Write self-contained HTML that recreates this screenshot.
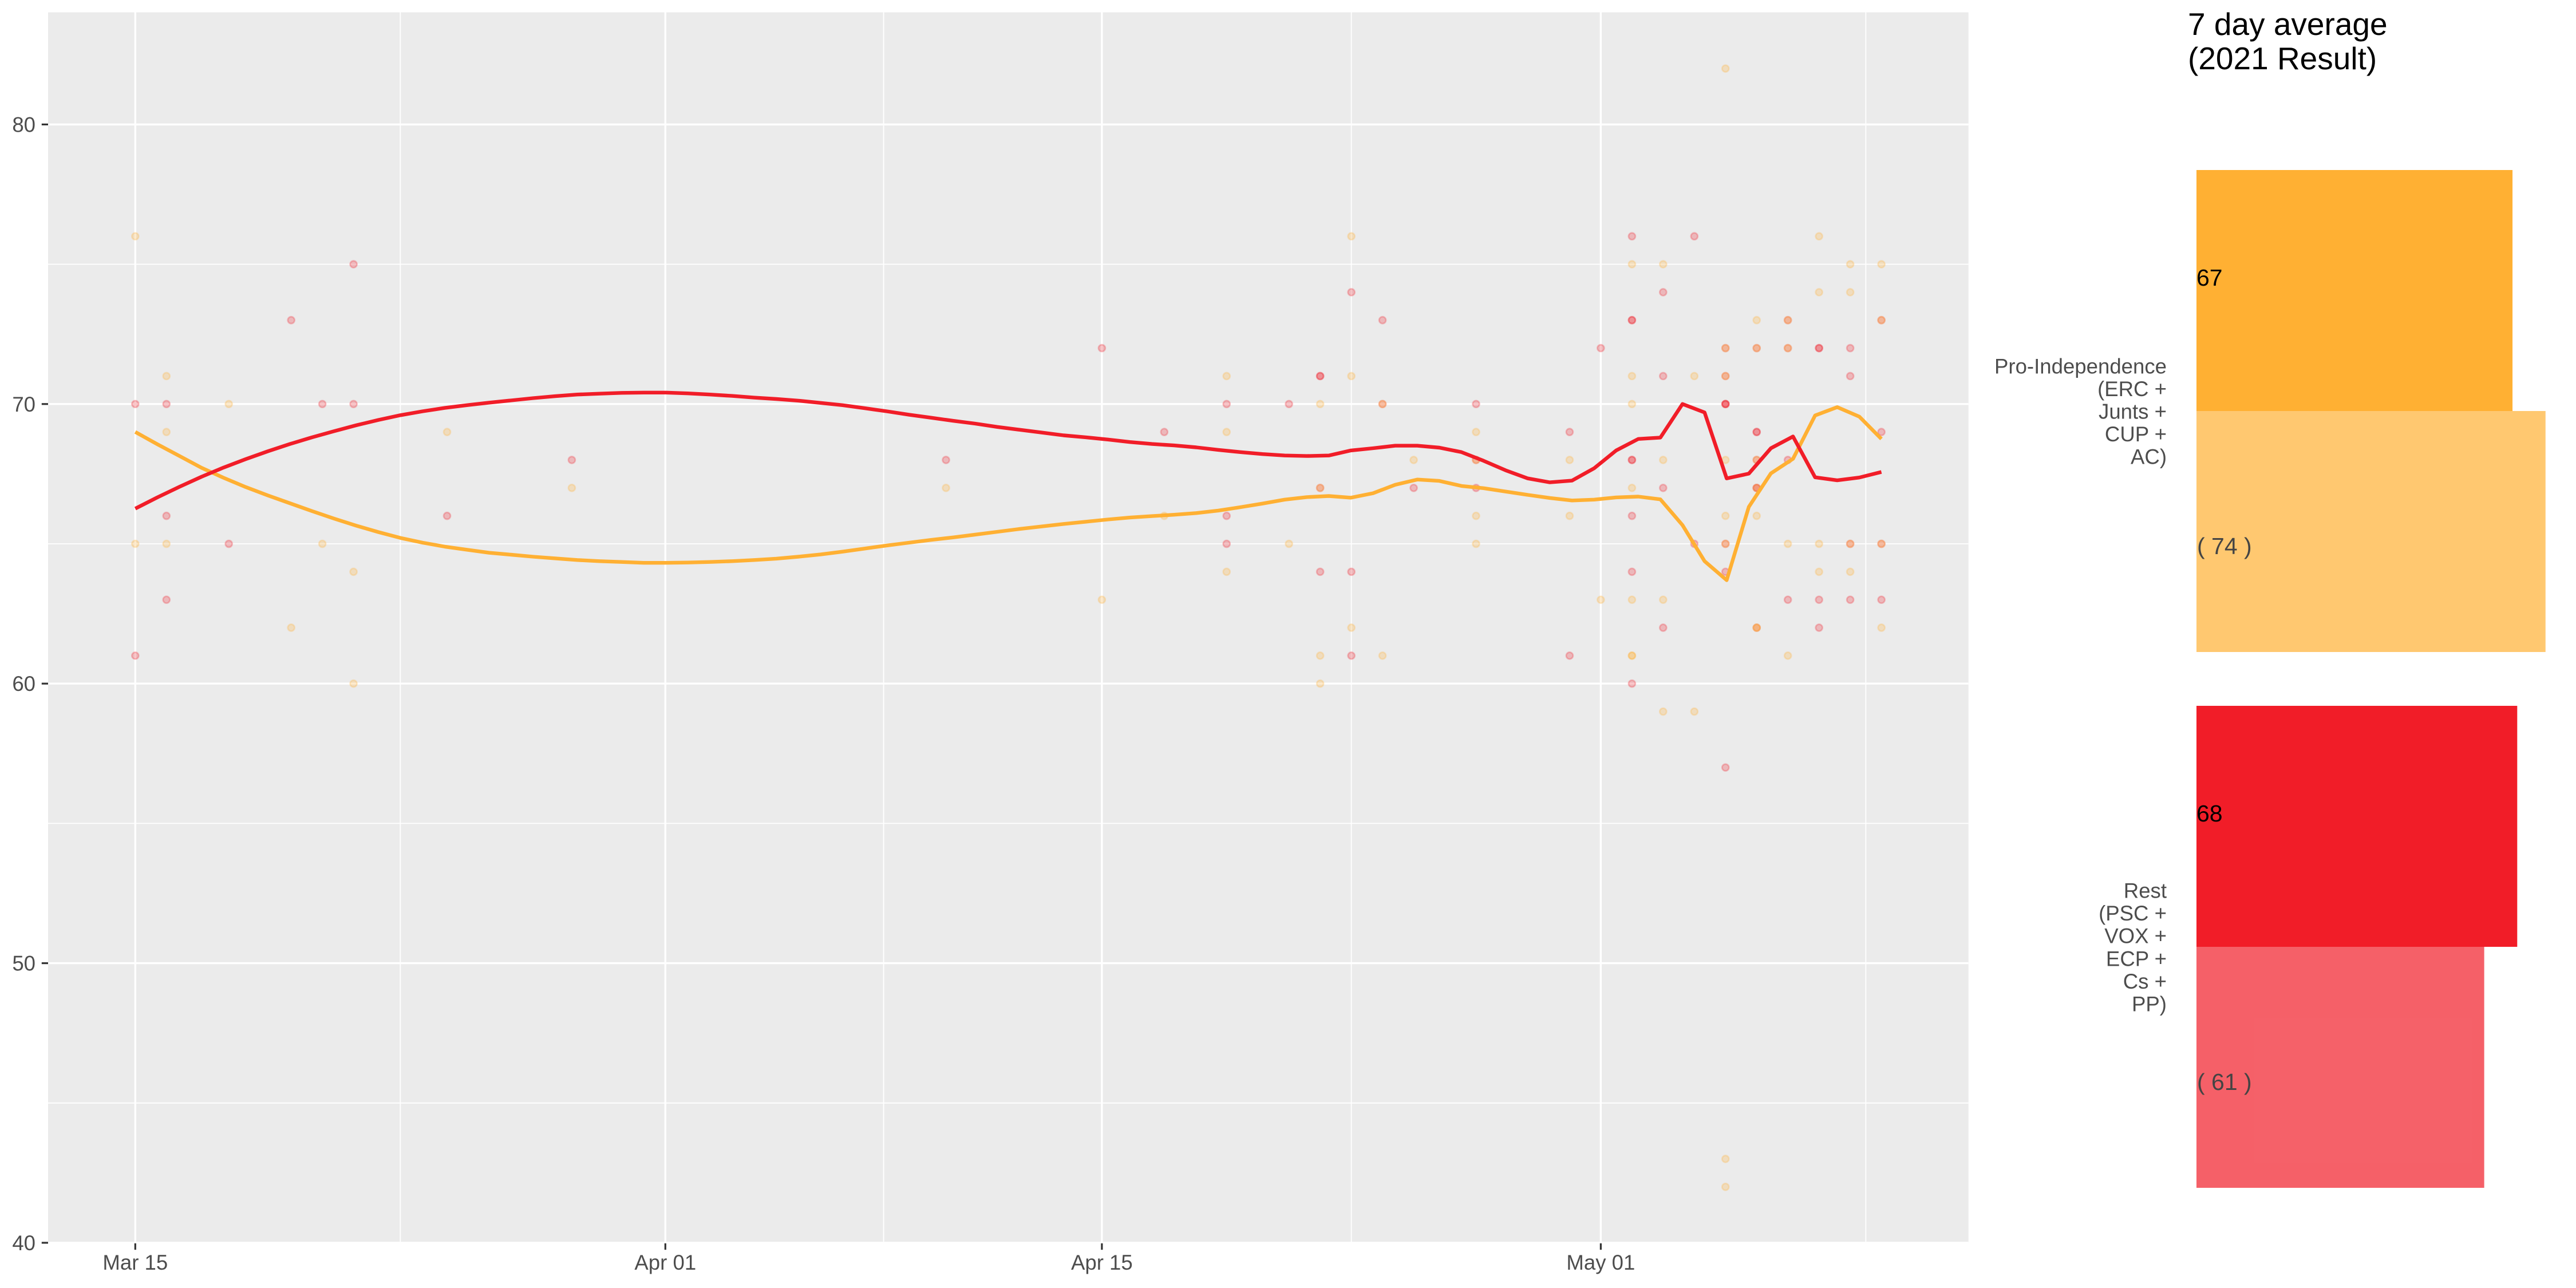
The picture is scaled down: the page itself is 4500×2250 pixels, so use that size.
<!DOCTYPE html>
<html lang="en">
<head>
<meta charset="utf-8">
<title>7 day average polling chart</title>
<style>
html,body{margin:0;padding:0;background:#fff;}
svg{display:block;font-family:"Liberation Sans",Arial,sans-serif;}
</style>
</head>
<body>
<svg id="chart" xmlns="http://www.w3.org/2000/svg" width="4500" height="2250" viewBox="0 0 4500 2250">
  <rect x="0" y="0" width="4500" height="2250" fill="#ffffff"/>
  <defs><clipPath id="panel-clip"><rect x="84" y="21.5" width="3354.7" height="2148.5"/></clipPath></defs>
  <rect x="84" y="21.5" width="3354.7" height="2148.5" fill="#ebebeb"/>
  <g id="grid" clip-path="url(#panel-clip)"></g>
  <g id="axes"></g>
  <g id="points" clip-path="url(#panel-clip)"></g>
  <g id="lines" clip-path="url(#panel-clip)"></g>
  <g id="bars"></g>
  <text fill="#000000" font-size="55" x="3822"><tspan x="3822" y="61">7 day average</tspan><tspan x="3822" y="121">(2021 Result)</tspan></text>
</svg>
<script>
const yMajorTicks = [40, 50, 60, 70, 80];
const yMinorTicks = [45, 55, 65, 75];
const xMajorDays = [0, 17, 31, 47];
const xMajorLabels = ["Mar 15", "Apr 01", "Apr 15", "May 01"];
const xMinorDays = [8.5, 24, 39, 55.5];

const orangePollDays = [0,0,1,1,1,3,5,6,7,7,10,14,26,31,33,35,35,35,37,38,38,38,38,39,39,39,40,40,41,43,43,43,43,46,46,47,48,48,48,48,48,48,48,49,49,49,49,50,50,51,51,51,51,51,51,51,51,52,52,52,52,52,52,52,53,53,53,53,54,54,54,54,55,55,55,55,56,56,56,56];
const orangePollValues = [76,65,71,69,65,70,62,65,64,60,69,67,67,63,66,71,69,64,65,70,61,60,67,76,71,62,70,61,68,69,68,66,65,68,66,63,75,71,70,67,63,61,61,75,68,63,59,71,59,82,72,71,68,66,65,43,42,73,72,68,66,67,62,62,73,72,65,61,76,74,65,64,75,74,65,64,75,73,65,62];
const redPollDays = [0,0,1,1,1,3,5,6,7,7,10,14,26,31,33,35,35,35,37,38,38,38,38,39,39,39,40,40,41,43,43,43,46,46,47,48,48,48,48,48,48,48,48,49,49,49,49,50,50,51,51,51,51,51,51,51,51,52,52,52,52,52,52,52,53,53,53,53,54,54,54,54,55,55,55,55,56,56,56,56];
const redPollValues = [70,61,70,66,63,65,73,70,75,70,66,68,68,72,69,70,66,65,70,71,71,67,64,74,64,61,73,70,67,70,68,67,69,61,72,76,73,73,68,68,66,64,60,74,71,67,62,76,65,72,71,70,70,70,65,64,57,72,69,69,68,67,67,62,73,72,68,63,72,72,63,62,72,71,65,63,73,69,65,63];

const orangeTrend = [69.00,68.56,68.14,67.72,67.36,67.03,66.73,66.45,66.17,65.90,65.65,65.42,65.21,65.04,64.90,64.79,64.68,64.61,64.54,64.48,64.42,64.38,64.35,64.32,64.32,64.33,64.35,64.38,64.42,64.47,64.54,64.62,64.72,64.83,64.94,65.04,65.14,65.23,65.33,65.43,65.53,65.62,65.71,65.79,65.87,65.94,65.99,66.04,66.10,66.19,66.31,66.44,66.58,66.67,66.71,66.65,66.81,67.11,67.30,67.25,67.07,66.99,66.87,66.75,66.64,66.55,66.58,66.66,66.69,66.59,65.67,64.38,63.70,66.32,67.52,68.04,69.59,69.89,69.55,68.75];
const redTrend = [66.26,66.66,67.04,67.40,67.73,68.03,68.31,68.57,68.81,69.03,69.24,69.43,69.60,69.74,69.86,69.96,70.05,70.13,70.21,70.28,70.34,70.37,70.40,70.41,70.41,70.38,70.34,70.29,70.23,70.18,70.12,70.04,69.96,69.85,69.74,69.62,69.51,69.40,69.30,69.18,69.08,68.98,68.88,68.81,68.73,68.64,68.57,68.52,68.45,68.36,68.28,68.21,68.16,68.14,68.16,68.34,68.42,68.51,68.51,68.44,68.28,67.97,67.63,67.34,67.20,67.26,67.70,68.34,68.75,68.80,70.00,69.70,67.34,67.51,68.42,68.84,67.38,67.27,67.37,67.57];
const trendLastDay = 56;

const barCategories = [
  ["Pro-Independence", "(ERC +", "Junts +", "CUP +", "AC)"],
  ["Rest", "(PSC +", "VOX +", "ECP +", "Cs +", "PP)"]
];
const barKeys = ["pro-independence", "rest"];
const averageValues = [67, 68];
const resultValues = [74, 61];

const NS = "http://www.w3.org/2000/svg";
const xScale = d => 236.3 + d * 54.47;
const yScale = v => 2171 - (v - 40) * 48.84;
const barWidth = v => v * 8.24;
const bandTop = i => 297 + i * 936;
const bandHeight = 421;
const colors = { orange: "#ffb033", red: "#f11d28" };

function mk(tag, parent, attrs) {
  const el = document.createElementNS(NS, tag);
  for (const k in attrs) el.setAttribute(k, attrs[k]);
  parent.appendChild(el);
  return el;
}

const grid = document.getElementById("grid");
const axes = document.getElementById("axes");
const pointsG = document.getElementById("points");
const linesG = document.getElementById("lines");
const barsG = document.getElementById("bars");

yMinorTicks.forEach(v => {
  const el = mk("line", grid, { x1: 84, x2: 3438.7, y1: yScale(v), y2: yScale(v), stroke: "#ffffff", "stroke-width": 1.8 });
  
  
});
xMinorDays.forEach(d => {
  const el = mk("line", grid, { x1: xScale(d), x2: xScale(d), y1: 21.5, y2: 2170, stroke: "#ffffff", "stroke-width": 1.8 });
  
  
});
yMajorTicks.forEach(v => {
  const el = mk("line", grid, { x1: 84, x2: 3438.7, y1: yScale(v), y2: yScale(v), stroke: "#ffffff", "stroke-width": 3.4 });
  
  
});
xMajorDays.forEach(d => {
  const el = mk("line", grid, { x1: xScale(d), x2: xScale(d), y1: 21.5, y2: 2170, stroke: "#ffffff", "stroke-width": 3.4 });
  
  
});

yMajorTicks.forEach(v => {
  const tick = mk("line", axes, { x1: 72.8, x2: 84, y1: yScale(v), y2: yScale(v), stroke: "#333333", "stroke-width": 3.2 });
  
  
  const label = mk("text", axes, { x: 62, y: yScale(v) + 13, "text-anchor": "end", "font-size": 36.6, fill: "#4d4d4d" });
  
  
  label.textContent = String(v);
});
xMajorDays.forEach((d, i) => {
  const tick = mk("line", axes, { x1: xScale(d), x2: xScale(d), y1: 2172, y2: 2183.2, stroke: "#333333", "stroke-width": 3.2 });
  
  
  const label = mk("text", axes, { x: xScale(d), y: 2218, "text-anchor": "middle", "font-size": 36.6, fill: "#4d4d4d" });
  
  
  label.textContent = xMajorLabels[i];
});

function drawPoints(days, values, color, name) {
  days.forEach((d, i) => {
    const c = mk("circle", pointsG, {
      cx: xScale(d), cy: yScale(values[i]), r: 6,
      fill: color, "fill-opacity": 0.25,
      stroke: color, "stroke-opacity": 0.25, "stroke-width": 2.7
    });
    
    
  });
}
drawPoints(redPollDays, redPollValues, colors.red, "poll-point-rest");
drawPoints(orangePollDays, orangePollValues, colors.orange, "poll-point-pro-independence");

function drawTrend(values, color, name) {
  const pts = values.map((v, i) => xScale(i * trendLastDay / (values.length - 1)).toFixed(1) + "," + yScale(v).toFixed(1));
  const p = mk("polyline", linesG, {
    points: pts.join(" "), fill: "none", stroke: color,
    "stroke-width": 6.4, "stroke-linejoin": "round", "stroke-linecap": "butt"
  });
  
  
}
drawTrend(orangeTrend, colors.orange, "trend-line-pro-independence");
drawTrend(redTrend, colors.red, "trend-line-rest");

const barLeft = 3837;
const barFills = [colors.orange, colors.red];
barCategories.forEach((lines, i) => {
  const top = bandTop(i);
  const avg = mk("rect", barsG, { x: barLeft, y: top, width: barWidth(averageValues[i]), height: bandHeight, fill: barFills[i] });
  
  
  const res = mk("rect", barsG, { x: barLeft, y: top + bandHeight, width: barWidth(resultValues[i]), height: bandHeight, fill: barFills[i], "fill-opacity": 0.7 });
  
  
  const avgLabel = mk("text", barsG, { x: barLeft, y: top + 202, "font-size": 41, fill: "#000000" });
  
  
  avgLabel.textContent = String(averageValues[i]);
  const resLabel = mk("text", barsG, { x: barLeft + 1, y: top + bandHeight + 250, "font-size": 41, fill: "#444444", "xml:space": "preserve" });
  
  
  resLabel.textContent = "( " + resultValues[i] + " )";
  const center = top + bandHeight + 13.5;
  const spacing = 39.6;
  const cat = mk("text", barsG, { "text-anchor": "end", "font-size": 36.6, fill: "#4d4d4d" });
  
  
  lines.forEach((line, j) => {
    const t = mk("tspan", cat, { x: 3785, y: center + (j - (lines.length - 1) / 2) * spacing });
    t.textContent = line;
  });
});
</script>
</body>
</html>
